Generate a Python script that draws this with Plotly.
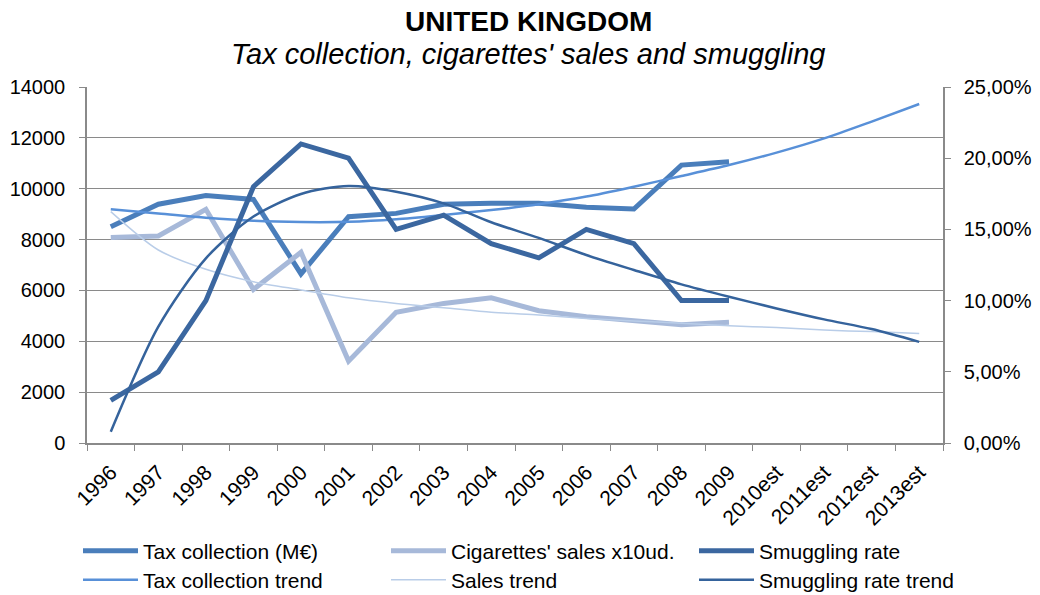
import plotly.graph_objects as go

years = ["1996", "1997", "1998", "1999", "2000", "2001", "2002", "2003", "2004",
         "2005", "2006", "2007", "2008", "2009", "2010est", "2011est", "2012est", "2013est"]
data_years = years[:14]

tax = [8500, 9390, 9730, 9580, 6650, 8900, 9030, 9390, 9430, 9430, 9270, 9200, 10930, 11060]
sales = [8080, 8140, 9190, 6040, 7500, 3220, 5140, 5490, 5710, 5200, 4970, 4810, 4650, 4750]
smuggling = [3.0, 5.0, 10.0, 18.0, 21.0, 20.0, 15.0, 16.0, 14.0, 13.0, 15.0, 14.0, 10.0, 10.0]

tax_trend = [9190, 9030, 8860, 8740, 8690, 8700, 8800, 8970, 9160, 9390, 9690, 10080,
             10500, 10930, 11420, 11980, 12640, 13330]
sales_trend = [9100, 7590, 6830, 6340, 6020, 5710, 5490, 5320, 5140, 5030, 4900, 4800,
               4710, 4610, 4540, 4440, 4380, 4310]
smug_trend = [0.79, 8.17, 12.97, 15.9, 17.49, 18.05, 17.65, 16.83, 15.5, 14.4, 13.2, 12.15,
              11.14, 10.27, 9.45, 8.68, 8.0, 7.1]

left_ticks = [0, 2000, 4000, 6000, 8000, 10000, 12000, 14000]
right_ticks = [0, 5, 10, 15, 20, 25]
right_labels = ["0,00%", "5,00%", "10,00%", "15,00%", "20,00%", "25,00%"]

title_text = "UNITED KINGDOM"
subtitle_text = "Tax collection, cigarettes' sales and smuggling"

C_TAX = "#4A7EBB"
C_SALES = "#A7B9D9"
C_SMUG = "#3B67A0"
C_TAXT = "#5890D8"
C_SALEST = "#B9CDE8"
C_SMUGT = "#35639C"
GRID = "#8A8A8A"
FONT = "Liberation Sans, Arial, sans-serif"

fig = go.Figure()
fig.add_trace(go.Scatter(x=data_years, y=tax, name="Tax collection (M€)", mode="lines",
                         line=dict(color=C_TAX, width=5), legend="legend", showlegend=True))
fig.add_trace(go.Scatter(x=data_years, y=sales, name="Cigarettes' sales x10ud.", mode="lines",
                         line=dict(color=C_SALES, width=5), legend="legend2", showlegend=True))
fig.add_trace(go.Scatter(x=data_years, y=smuggling, name="Smuggling rate", mode="lines",
                         line=dict(color=C_SMUG, width=5), yaxis="y2", legend="legend3",
                         showlegend=True))
fig.add_trace(go.Scatter(x=years, y=tax_trend, name="Tax collection trend", mode="lines",
                         line=dict(color=C_TAXT, width=2.5, shape="spline", smoothing=0.8),
                         legend="legend4", showlegend=True))
fig.add_trace(go.Scatter(x=years, y=sales_trend, name="Sales trend", mode="lines",
                         line=dict(color=C_SALEST, width=1.5, shape="spline", smoothing=0.8),
                         legend="legend5", showlegend=True))
fig.add_trace(go.Scatter(x=years, y=smug_trend, name="Smuggling rate trend", mode="lines",
                         line=dict(color=C_SMUGT, width=2.5, shape="spline", smoothing=0.8),
                         yaxis="y2", legend="legend6", showlegend=True))


def leg(xpix, ypix):
    return dict(orientation="h", xref="container", yref="container",
                x=xpix / 1040, xanchor="left", y=1 - ypix / 595, yanchor="middle",
                font=dict(family=FONT, size=21, color="#000000"),
                itemwidth=55, bgcolor="rgba(0,0,0,0)")


cols = [78, 386, 694]
rows = [551, 580]

fig.update_layout(
    width=1040, height=595,
    showlegend=True,
    margin=dict(l=87, r=97, t=87, b=152, autoexpand=False),
    paper_bgcolor="white", plot_bgcolor="white",
    font=dict(family=FONT, size=20, color="#000000"),
    xaxis=dict(type="category", categoryorder="array", categoryarray=years,
               range=[-0.5, len(years) - 0.5],
               showgrid=False, showline=True, linecolor=GRID, linewidth=1.5,
               ticks="outside", tickson="boundaries", ticklen=6, tickcolor=GRID,
               tickangle=-45, tickfont=dict(size=21), ticklabelstandoff=7,
               automargin=False, zeroline=False),
    yaxis=dict(range=[0, 14000], tickvals=left_ticks, tickformat="d", showgrid=True,
               gridcolor=GRID, gridwidth=1.2, showline=True, linecolor=GRID, linewidth=1.5,
               ticks="outside", ticklen=6, tickcolor=GRID, zeroline=False,
               ticklabelstandoff=10, tickfont=dict(size=20), automargin=False),
    yaxis2=dict(range=[0, 25], tickvals=right_ticks, ticktext=right_labels,
                overlaying="y", side="right", showgrid=False, showline=True,
                linecolor=GRID, linewidth=1.5, ticks="outside", ticklen=6,
                tickcolor=GRID, zeroline=False, ticklabelstandoff=9,
                tickfont=dict(size=20), automargin=False),
    legend=leg(cols[0], rows[0]),
    legend2=leg(cols[1], rows[0]),
    legend3=leg(cols[2], rows[0]),
    legend4=leg(cols[0], rows[1]),
    legend5=leg(cols[1], rows[1]),
    legend6=leg(cols[2], rows[1]),
    annotations=[
        dict(text="<b>" + title_text + "</b>", xref="paper", yref="paper",
             x=(528 - 87) / 856, y=(443 - 21) / 356, xanchor="center", yanchor="middle",
             showarrow=False, font=dict(family=FONT, size=28, color="#000000")),
        dict(text="<i>" + subtitle_text + "</i>", xref="paper", yref="paper",
             x=(528 - 87) / 856, y=(443 - 54) / 356, xanchor="center", yanchor="middle",
             showarrow=False, font=dict(family=FONT, size=29, color="#000000")),
    ],
)

fig.write_html("out.html", config={"displayModeBar": False},
               post_script="document.body.style.margin='0';document.body.style.overflow='hidden';")
